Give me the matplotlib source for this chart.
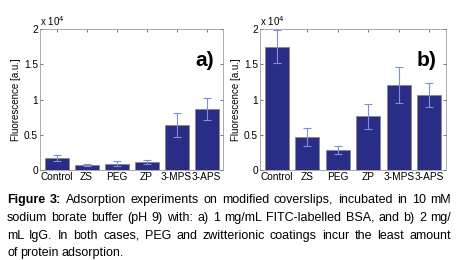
import matplotlib.pyplot as plt
import numpy as np

plt.rcParams["font.family"] = ["Liberation Sans", "DejaVu Sans"]

cats = ["Control", "ZS", "PEG", "ZP", "3-MPS", "3-APS"]
bsa_vals = [1650, 680, 920, 1120, 6400, 8700]
bsa_err = [420, 180, 300, 280, 1650, 1550]
igg_vals = [17500, 4650, 2850, 7600, 12050, 10650]
igg_err = [2300, 1250, 550, 1750, 2600, 1750]
panel_tags = ["a)", "b)"]

bar_c = "#2a2d86"
err_c = "#7f8fd8"
W, H = 458, 260

fig = plt.figure(figsize=(4.58, 2.60), dpi=100)
boxes = [[40 / W, 90 / H, 183 / W, 141 / H],
         [260 / W, 90 / H, 186 / W, 141 / H]]

for box, vals, errs, tag in zip(boxes, [bsa_vals, igg_vals], [bsa_err, igg_err], panel_tags):
    ax = fig.add_axes(box)
    x = np.arange(len(cats))
    ax.bar(x, vals, width=0.8, color=bar_c, edgecolor="#888888", lw=0.6)
    ax.errorbar(x, vals, yerr=errs, fmt="none", ecolor=err_c, elinewidth=0.8, capsize=3, capthick=0.8)
    ax.set_xlim(-0.55, 5.55)
    ax.set_ylim(0, 20000)
    ax.set_yticks([0, 5000, 10000, 15000, 20000])
    ax.set_yticklabels(["0", "0.5", "1", "1.5", "2"])
    ax.set_xticks(x)
    ax.set_xticklabels(cats)
    ax.tick_params(labelsize=7.3, direction="in", top=True, right=True, length=2, pad=1.5, width=0.5, colors="#444444", labelcolor="black")
    for s in ax.spines.values():
        s.set_linewidth(0.5)
        s.set_color("#888888")
    ax.set_ylabel("Fluorescence [a.u.]", fontsize=7, labelpad=2)
    ax.text(0.0, 1.01, r"x 10$^4$", transform=ax.transAxes, fontsize=7, ha="left", va="bottom")
    ax.text(0.95, 0.78, tag, transform=ax.transAxes, fontsize=15, fontweight="bold", ha="right", va="center")

lines = [
    "Adsorption experiments on modified coverslips, incubated in 10 mM",
    "sodium borate buffer (pH 9) with: a) 1 mg/mL FITC-labelled BSA, and b) 2 mg/",
    "mL IgG. In both cases, PEG and zwitterionic coatings incur the least amount",
    "of protein adsorption.",
]
baselines = [203, 221, 239, 256]
fs = 9.0
x0, x1 = 7, 451
fig.canvas.draw()
r = fig.canvas.get_renderer()


def put_line(words, xstart, y, justify, first_bold=0):
    arts = []
    for i, wd in enumerate(words):
        a = fig.text(0, 1 - y / H, wd, fontsize=fs, va="baseline", ha="left",
                     fontweight="bold" if i < first_bold else "normal")
        arts.append(a)
    widths = [a.get_window_extent(r).width for a in arts]
    if justify:
        gap = (x1 - xstart - sum(widths)) / (len(words) - 1)
    else:
        gap = fs * 0.3
    xx = xstart
    for a, w in zip(arts, widths):
        a.set_x(xx / W)
        xx += w + gap


put_line(["Figure", "3:"] + lines[0].split(), x0, baselines[0], True, first_bold=2)
put_line(lines[1].split(), x0, baselines[1], True)
put_line(lines[2].split(), x0, baselines[2], True)
put_line(lines[3].split(), x0, baselines[3], False)

fig.savefig("out.png", dpi=100)
